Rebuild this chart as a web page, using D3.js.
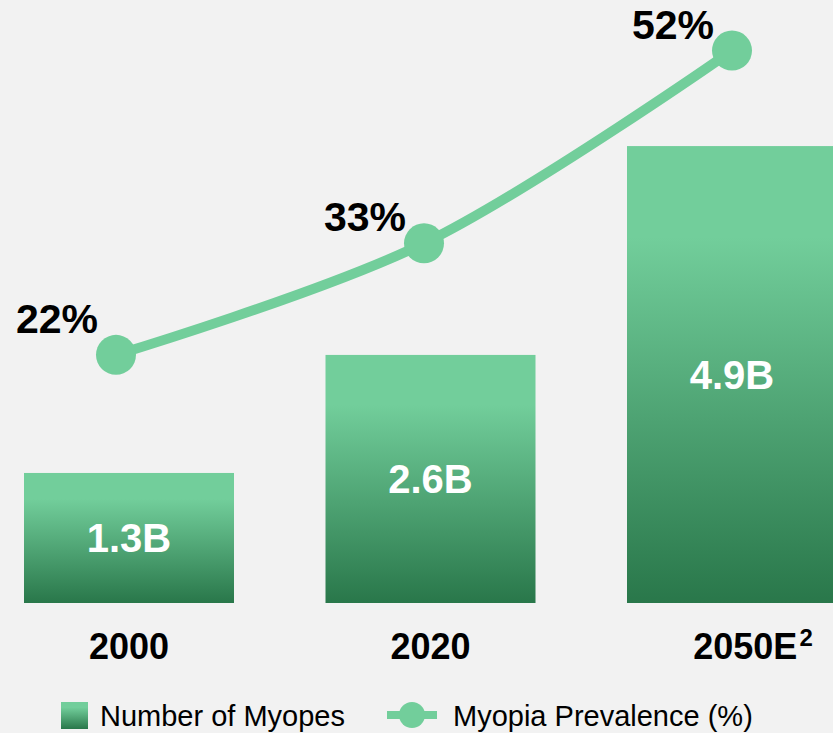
<!DOCTYPE html>
<html>
<head>
<meta charset="utf-8">
<script src="https://cdn.jsdelivr.net/npm/d3@7"></script>
<style>
  html, body { margin: 0; padding: 0; background: #f2f2f2; }
  svg { display: block; font-family: "Liberation Sans", Arial, sans-serif; }
</style>
</head>
<body>
<svg id="chart" width="833" height="733"></svg>
<script>
// ---- data ----
const categories = ["2000", "2020", "2050E"];
const categorySup = ["", "", "2"];
const myopes = [1.3, 2.6, 4.9];            // billions
const myopesLabels = ["1.3B", "2.6B", "4.9B"];
const prevalence = [22, 33, 52];          // %
const prevalenceLabels = ["22%", "33%", "52%"];
const legendLabels = ["Number of Myopes", "Myopia Prevalence (%)"];

// ---- style ----
const green = "#72ce9b";
const darkGreen = "#29774a";
const W = 833, H = 733;
const baseY = 603;

const svg = d3.select("#chart");
svg.append("rect").attr("width", W).attr("height", H).attr("fill", "#f2f2f2");

const defs = svg.append("defs");
const grad = defs.append("linearGradient").attr("id", "barGrad")
  .attr("x1", 0).attr("y1", 0).attr("x2", 0).attr("y2", 1);
grad.append("stop").attr("offset", 0).attr("stop-color", green);
grad.append("stop").attr("offset", 0.2).attr("stop-color", green);
grad.append("stop").attr("offset", 1).attr("stop-color", darkGreen);

// scales
const x = d3.scaleBand().domain(categories).range([24, 837]).paddingInner(0.3035).paddingOuter(0);
const y = d3.scaleLinear().domain([0, 5]).range([591, 137]);
const xl = d3.scalePoint().domain(categories).range([116, 732]);
const yl = d3.scaleLinear().domain([0, 56]).range([578, 10]);

// bars
const bars = svg.append("g");
bars.selectAll("rect").data(myopes).join("rect")
  .attr("x", (d, i) => x(categories[i]))
  .attr("y", d => y(d))
  .attr("width", x.bandwidth())
  .attr("height", d => baseY - y(d))
  .attr("fill", "url(#barGrad)");

bars.selectAll("text").data(myopes).join("text")
  .attr("x", (d, i) => x(categories[i]) + x.bandwidth() / 2)
  .attr("y", d => (y(d) + baseY) / 2)
  .attr("dy", "0.36em")
  .attr("text-anchor", "middle")
  .attr("fill", "#ffffff")
  .attr("font-weight", "bold")
  .attr("font-size", 40)
  .text((d, i) => myopesLabels[i]);

// category labels
const cats = svg.append("g");
cats.selectAll("text").data(categories).join("text")
  .attr("x", (d, i) => x(d) + x.bandwidth() / 2)
  .attr("dx", (d, i) => categorySup[i] ? 21 : 0)
  .attr("y", 659)
  .attr("text-anchor", "middle")
  .attr("font-weight", "bold")
  .attr("font-size", 36)
  .attr("fill", "#000")
  .each(function(d, i) {
    const t = d3.select(this);
    t.append("tspan").text(d);
    if (categorySup[i]) {
      t.append("tspan").attr("font-size", 24).attr("dx", 2).attr("dy", -13).text(categorySup[i]);
    }
  });

// line
const pts = prevalence.map((v, i) => [xl(categories[i]), yl(v)]);
svg.append("path")
  .attr("d", d3.line().curve(d3.curveCatmullRom.alpha(0.5))(pts))
  .attr("fill", "none")
  .attr("stroke", green)
  .attr("stroke-width", 10);

svg.append("g").selectAll("circle").data(pts).join("circle")
  .attr("cx", d => d[0]).attr("cy", d => d[1]).attr("r", 20)
  .attr("fill", green);

svg.append("g").selectAll("text").data(pts).join("text")
  .attr("x", d => d[0] - 18)
  .attr("y", (d, i) => d[1] - (i === 0 ? 22 : 12))
  .attr("text-anchor", "end")
  .attr("font-weight", "bold")
  .attr("font-size", 41)
  .attr("fill", "#000")
  .text((d, i) => prevalenceLabels[i]);

// legend
const lg = svg.append("g");
lg.append("rect").attr("x", 61).attr("y", 702).attr("width", 27).attr("height", 27)
  .attr("fill", "url(#barGrad)");
lg.append("text").attr("x", 100).attr("y", 726).attr("font-size", 29).attr("fill", "#000")
  .text(legendLabels[0]);
lg.append("line").attr("x1", 387).attr("x2", 437).attr("y1", 715).attr("y2", 715)
  .attr("stroke", green).attr("stroke-width", 8);
lg.append("circle").attr("cx", 412).attr("cy", 715).attr("r", 13).attr("fill", green);
lg.append("text").attr("x", 453).attr("y", 726).attr("font-size", 29).attr("fill", "#000")
  .text(legendLabels[1]);
</script>
</body>
</html>
